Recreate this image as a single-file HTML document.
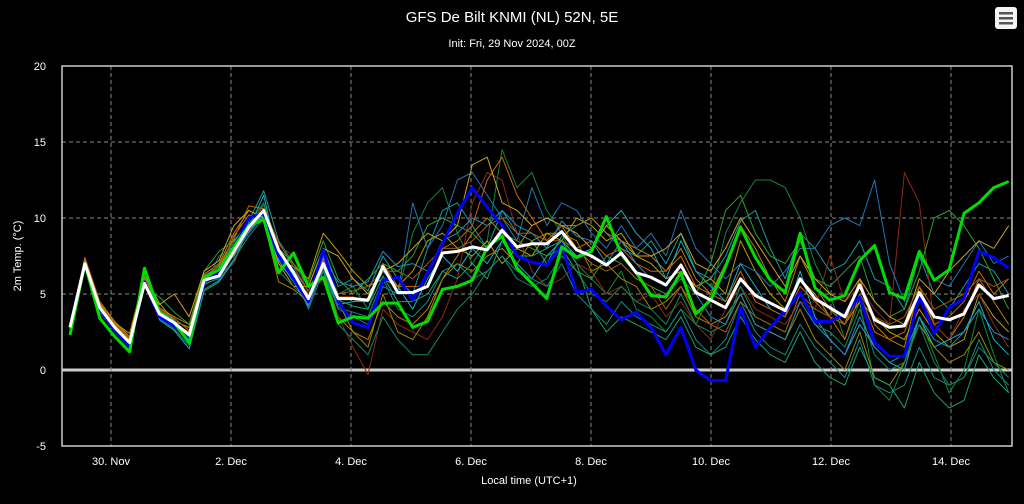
<!DOCTYPE html>
<html><head><meta charset="utf-8"><style>
html,body{margin:0;padding:0;background:#000;}
svg{display:block;font-family:"Liberation Sans",sans-serif;}
</style></head><body>
<svg id="chart" width="1024" height="504" viewBox="0 0 1024 504">
<rect x="0" y="0" width="1024" height="504" fill="#000"/>
<text x="512" y="22" fill="#fff" font-size="15" text-anchor="middle">GFS De Bilt KNMI (NL) 52N, 5E</text>
<text x="512" y="47" fill="#fff" font-size="11" text-anchor="middle">Init: Fri, 29 Nov 2024, 00Z</text>
<g>
<rect x="995" y="7" width="22" height="22" rx="3" fill="#f4f4f4"/>
<rect x="999" y="12" width="14" height="2.5" fill="#555"/>
<rect x="999" y="17" width="14" height="2.5" fill="#555"/>
<rect x="999" y="22" width="14" height="2.5" fill="#555"/>
</g>
<g id="grid"></g>
<g id="series"></g>
<rect x="62" y="66" width="950" height="380" fill="none" stroke="#ccc" stroke-width="1.5"/>
<g id="axes"></g>
<text x="0" y="0" transform="translate(21,256) rotate(-90)" fill="#fff" font-size="11" text-anchor="middle">2m Temp. (°C)</text>
<text x="529" y="484" fill="#fff" font-size="11" text-anchor="middle">Local time (UTC+1)</text>
</svg>
<script>
const yTicks=[-5,0,5,10,15,20];
const xTickLabels=["30. Nov","2. Dec","4. Dec","6. Dec","8. Dec","10. Dec","12. Dec","14. Dec"];
const xTickDays=[0,2,4,6,8,10,12,14];
const meanSeries=[2.8,7.0,4.1,2.8,1.8,5.7,3.7,3.1,2.3,5.9,6.2,7.8,9.4,10.5,7.9,6.4,4.7,7.0,4.7,4.7,4.6,6.8,5.1,5.1,5.5,7.7,7.8,8.1,7.9,9.2,8.1,8.3,8.3,9.1,7.9,7.5,6.9,7.7,6.4,6.1,5.6,6.9,5.1,4.6,4.1,6.0,4.9,4.4,3.9,6.0,4.7,4.1,3.5,5.6,3.3,2.8,2.9,5.1,3.5,3.3,3.7,5.6,4.7,4.9];
const controlSeries=[2.3,7.0,3.4,2.2,1.2,6.7,3.8,3.1,1.8,6.1,6.6,8.1,9.5,9.9,6.4,7.7,5.5,6.1,3.1,3.5,3.4,4.4,4.4,2.8,3.2,5.3,5.5,5.9,8.1,8.8,6.7,5.7,4.7,8.1,7.4,7.8,10.1,7.6,6.4,4.9,4.8,6.4,3.7,4.6,6.8,9.4,7.4,5.9,5.1,9.0,5.4,4.6,4.9,7.2,8.2,5.1,4.7,7.8,5.9,6.6,10.3,11.0,12.0,12.4];
const operSeries=[2.8,7.0,4.0,2.6,1.6,5.8,3.5,2.9,2.0,5.8,6.4,8.0,10.0,10.3,7.5,6.0,4.5,7.9,4.5,3.1,2.8,5.9,6.1,4.6,6.4,8.3,10.3,12.0,10.7,9.5,7.5,7.1,6.9,8.2,5.1,5.3,4.2,3.3,3.8,2.8,1.0,2.8,0.0,-0.7,-0.7,4.1,1.5,2.8,3.9,5.1,3.2,3.2,3.7,4.8,1.8,0.9,0.9,4.9,2.4,4.1,4.7,7.8,7.4,6.7];
const member01=[2.9,7.2,4.3,3.0,2.0,5.5,3.9,3.3,2.0,6.2,6.8,8.4,9.8,11.8,8.5,7.0,5.5,8.0,5.5,6.0,5.2,7.5,6.0,5.0,8.0,10.5,11.0,9.5,8.0,10.5,9.0,8.5,7.0,8.8,9.5,10.0,9.0,8.0,7.5,8.5,7.0,9.0,6.5,6.0,7.5,9.8,10.5,8.0,6.0,9.0,8.0,6.5,7.0,8.5,6.0,5.5,4.0,7.5,5.0,4.0,5.5,7.0,6.5,5.0];
const member02=[3.0,7.4,4.5,3.2,2.2,6.0,4.1,3.5,3.0,6.3,7.0,9.0,10.5,10.0,7.0,6.0,5.0,6.5,3.5,2.5,2.0,4.5,3.5,3.0,4.0,6.0,7.5,9.0,10.0,9.0,8.0,9.5,10.0,9.5,9.5,10.0,9.0,8.5,8.0,7.5,6.5,8.0,6.0,5.0,7.0,9.5,8.0,6.0,4.5,7.5,5.5,4.0,3.0,6.0,3.0,2.0,1.5,5.5,3.0,2.0,3.5,6.0,4.5,3.0];
const member03=[2.6,6.8,3.8,2.5,1.5,5.8,3.5,2.8,2.4,5.5,7.5,8.0,9.0,11.0,8.0,6.0,4.8,7.5,5.0,5.5,4.0,7.0,5.0,9.0,11.0,12.0,9.0,7.0,8.5,14.5,12.0,13.0,10.5,9.0,7.0,6.0,5.0,6.5,4.0,3.5,2.5,4.0,3.0,5.0,9.0,11.0,12.5,12.5,12.0,10.0,7.0,5.0,2.0,4.5,-1.0,-2.0,0.5,3.5,1.0,-1.5,0.0,4.0,1.0,-1.5];
const member04=[2.7,7.1,4.4,3.1,2.4,6.2,4.4,3.2,2.8,6.0,6.5,7.5,9.2,10.0,7.2,6.8,6.0,9.0,7.8,6.5,5.5,6.0,5.5,6.5,8.5,9.0,8.0,7.5,8.5,7.0,8.0,7.5,9.0,8.5,10.0,9.5,8.5,9.0,7.5,7.0,6.0,6.5,5.5,6.0,5.0,8.5,6.5,5.0,4.0,6.0,5.0,3.5,3.0,4.5,3.5,2.5,2.0,4.0,2.5,1.5,2.0,5.0,3.5,2.5];
const member05=[2.8,7.0,4.2,2.9,1.9,5.6,3.6,3.0,2.2,6.1,6.3,7.0,9.5,10.8,8.2,7.5,5.0,6.0,3.5,1.5,-0.3,4.0,3.0,2.5,2.0,3.5,6.0,11.0,13.0,12.5,9.0,6.5,5.5,6.0,7.0,6.5,5.0,5.5,4.5,5.0,3.5,4.5,3.0,2.0,4.0,5.5,4.0,3.5,3.0,4.5,4.0,7.5,4.5,5.5,4.0,3.0,13.0,11.0,3.0,2.0,4.0,5.0,3.0,1.5];
const member06=[2.9,7.0,4.0,2.7,1.7,5.7,3.8,3.1,2.1,5.7,6.0,7.6,9.0,10.2,7.8,6.5,4.0,6.5,4.0,3.5,3.0,5.5,5.0,11.0,8.0,9.5,12.5,13.0,11.5,10.0,8.5,12.0,9.5,11.0,10.5,9.0,8.0,9.5,8.0,9.0,7.5,10.5,8.0,7.0,6.0,7.0,6.5,5.5,6.5,8.0,8.0,9.5,10.0,9.5,12.5,7.0,4.5,7.5,6.0,5.5,7.0,8.5,7.0,7.5];
const member07=[2.9,6.9,4.1,2.8,1.6,5.9,3.3,2.6,1.4,5.2,5.8,7.2,9.3,11.5,7.2,5.8,4.2,6.8,4.3,4.5,4.5,6.5,5.5,4.0,6.0,7.5,6.5,8.0,7.0,8.5,7.0,6.0,7.5,8.5,7.5,8.0,9.5,10.5,9.0,8.0,6.0,8.5,6.5,5.5,4.5,7.0,5.5,4.0,3.5,6.5,3.5,2.0,1.0,3.0,1.5,0.5,0.0,3.5,1.5,2.0,2.5,4.5,2.0,1.0];
const member08=[2.7,7.0,3.9,2.6,1.7,5.4,4.8,3.8,3.0,6.5,7.8,8.5,9.7,10.2,8.0,7.0,5.8,8.5,6.0,5.0,6.0,7.0,6.5,7.5,9.5,10.0,9.5,9.0,8.0,9.0,8.5,8.0,7.5,8.0,6.5,6.0,7.5,7.0,6.0,5.5,5.0,6.0,5.0,7.0,10.5,11.5,9.0,7.5,7.0,8.5,6.0,5.5,6.5,7.5,4.5,3.5,4.0,6.5,10.0,10.5,9.5,8.0,6.0,4.0];
const member09=[2.8,7.1,4.3,3.0,2.0,5.8,3.9,3.0,2.5,5.9,6.6,8.8,10.2,9.8,5.8,5.3,4.5,6.8,4.5,2.5,1.5,5.0,2.5,2.0,3.5,6.0,7.0,6.5,7.5,8.0,7.0,8.5,9.0,9.0,8.5,6.5,7.0,6.0,5.5,4.0,4.5,5.5,3.5,3.0,3.5,5.0,3.0,2.5,2.0,4.0,2.0,1.0,0.0,2.5,-0.5,-1.0,0.5,3.0,1.5,0.5,1.0,2.5,0.5,0.0];
const member10=[2.9,7.2,4.4,3.1,2.1,6.1,4.0,3.4,2.6,6.1,6.9,8.6,10.8,10.6,7.5,6.3,4.8,7.3,4.8,4.8,4.5,7.0,5.5,5.5,5.5,8.0,8.5,9.5,12.5,14.0,11.5,10.0,8.5,9.5,8.0,8.5,7.5,8.0,7.0,6.5,6.5,7.5,5.5,5.0,4.5,6.5,4.5,4.0,3.5,5.5,4.5,3.5,2.0,5.0,2.5,2.0,2.5,5.0,3.0,3.5,4.5,6.5,5.0,6.0];
const member11=[2.6,6.9,3.9,2.6,1.5,5.6,3.4,2.7,1.6,5.3,5.9,7.3,8.8,10.0,7.4,6.1,4.3,6.7,4.1,3.8,3.5,6.0,4.0,3.5,4.5,6.5,7.0,6.0,6.5,7.5,6.5,6.0,5.5,7.0,5.0,4.0,3.0,4.5,3.5,3.0,2.5,4.0,2.0,1.0,2.0,4.5,2.5,1.5,1.0,3.0,1.5,0.5,-0.5,2.0,-1.0,-1.5,-1.0,1.5,-0.5,-1.0,-0.5,2.0,0.0,-1.0];
const member12=[2.8,7.0,4.0,2.8,1.8,5.7,4.3,5.0,3.5,6.5,7.2,9.5,10.5,10.0,7.0,5.5,5.5,8.0,7.5,6.0,5.0,6.5,7.0,8.0,9.0,8.5,9.5,13.5,14.0,11.0,10.5,9.5,10.0,9.5,9.0,8.0,9.5,8.5,7.5,7.5,8.0,9.0,7.0,6.5,8.0,10.0,8.5,7.0,5.5,7.5,6.0,5.0,4.5,6.0,4.5,3.5,3.0,6.0,5.0,6.5,7.5,8.5,8.0,9.5];
const member13=[2.7,7.0,4.1,2.7,1.7,5.6,3.6,3.0,2.1,5.6,6.1,7.7,9.6,11.0,6.5,5.5,4.5,6.9,3.0,2.0,1.0,3.5,2.0,1.0,1.0,2.5,4.0,5.0,6.5,7.5,6.0,5.5,6.0,7.5,6.5,5.0,4.5,5.5,4.5,4.0,3.0,5.0,3.0,2.5,3.0,5.5,3.5,3.0,2.5,5.0,3.0,2.5,1.5,4.0,1.0,0.0,0.5,3.0,0.5,-1.0,-0.5,1.5,0.5,-0.5];
const member14=[2.8,7.1,4.2,2.9,1.9,5.8,3.8,3.2,2.3,5.8,6.4,7.9,9.1,10.4,7.7,6.6,5.2,7.4,5.8,5.5,5.8,7.8,6.8,7.0,6.5,8.5,9.0,10.0,9.5,10.5,9.5,9.0,8.0,9.8,8.8,8.5,7.0,8.5,7.0,6.0,5.5,7.0,5.0,3.5,3.0,5.0,3.0,2.5,2.0,4.5,3.0,2.0,1.0,3.5,1.5,0.5,1.0,3.5,2.0,1.5,2.5,4.0,2.5,2.0];
const member15=[2.9,7.0,4.0,2.8,1.8,5.6,3.9,3.4,2.6,6.0,6.2,7.8,9.2,10.6,8.4,6.8,5.2,7.2,5.0,5.2,5.5,6.5,6.5,6.0,7.0,8.0,8.0,8.5,9.5,10.0,9.0,9.0,8.5,8.5,8.0,7.0,6.5,7.0,6.0,5.5,4.0,5.5,4.0,3.0,2.5,4.5,3.5,3.0,2.5,5.0,4.0,3.5,3.0,5.0,3.5,3.0,3.5,5.5,4.0,4.5,5.0,6.0,5.5,6.0];
const member16=[2.8,6.9,4.0,2.7,1.6,5.7,3.7,3.1,2.2,5.9,6.3,7.7,9.4,10.5,7.6,6.2,4.5,6.8,4.6,4.2,4.0,6.2,4.5,4.5,5.0,6.5,6.0,7.0,6.0,8.5,7.5,7.5,8.0,8.5,7.0,4.0,2.5,3.5,3.0,2.5,2.0,3.5,1.5,1.0,1.5,3.5,2.0,1.0,0.5,2.5,0.5,-0.5,-1.0,1.5,-0.5,-1.0,-2.5,0.5,-1.5,-2.5,-2.0,1.0,-0.5,-1.5];

const NS='http://www.w3.org/2000/svg';
const X0=62,X1=1012,Y0=66,Y1=446;
function yScale(v){return 370-(v*15.2);}
function xScale(i){return 70+i*14.9;}
function xDay(d){return 111+d*60;}
const grid=document.getElementById('grid'),axes=document.getElementById('axes'),series=document.getElementById('series');
yTicks.forEach(function(t){
  const y=yScale(t);
  if(t!==-5&&t!==20){
    const l=document.createElementNS(NS,'line');
    l.setAttribute('x1',X0);l.setAttribute('x2',X1);l.setAttribute('y1',y);l.setAttribute('y2',y);
    l.setAttribute('stroke',t===0?'#ccc':'#888');l.setAttribute('stroke-width',t===0?3:1);
    if(t!==0)l.setAttribute('stroke-dasharray','4,3');
    
    
    grid.appendChild(l);
  }
  const tx=document.createElementNS(NS,'text');
  tx.setAttribute('x',46);tx.setAttribute('y',y+4);tx.setAttribute('fill','#fff');tx.setAttribute('font-size','11');tx.setAttribute('text-anchor','end');
  tx.textContent=t;
  
  
  axes.appendChild(tx);
});
xTickDays.forEach(function(d,k){
  const x=xDay(d);
  const l=document.createElementNS(NS,'line');
  l.setAttribute('x1',x);l.setAttribute('x2',x);l.setAttribute('y1',Y0);l.setAttribute('y2',Y1);
  l.setAttribute('stroke','#888');l.setAttribute('stroke-dasharray','4,3');
  
  
  grid.appendChild(l);
  const tx=document.createElementNS(NS,'text');
  tx.setAttribute('x',x);tx.setAttribute('y',465);tx.setAttribute('fill','#fff');tx.setAttribute('font-size','11');tx.setAttribute('text-anchor','middle');
  tx.textContent=xTickLabels[k];
  
  
  axes.appendChild(tx);
});
function drawLine(arr,color,w,name){
  const p=document.createElementNS(NS,'polyline');
  p.setAttribute('points',arr.map(function(v,i){return xScale(i).toFixed(1)+','+yScale(v).toFixed(1);}).join(' '));
  p.setAttribute('fill','none');p.setAttribute('stroke',color);p.setAttribute('stroke-width',w);p.setAttribute('stroke-linejoin','round');
  
  
  series.appendChild(p);
}
const members=[member01,member02,member03,member04,member05,member06,member07,member08,member09,member10,member11,member12,member13,member14,member15,member16];
const memberColors=['#1a9a9a','#c07a10','#118833','#b8a000','#8b2a10','#1f78b4','#17b0c0','#2ca02c','#9a8a00','#cc6600','#138a80','#d0a020','#0f8a60','#2b8cbe','#a05a10','#1aa070'];
members.forEach(function(m,i){drawLine(m,memberColors[i],1,'ensemble-member-line');});
drawLine(operSeries,'#0000ff',3,'operational-run-line');
drawLine(controlSeries,'#00dd00',3,'control-run-line');
drawLine(meanSeries,'#ffffff',3,'ensemble-mean-line');
</script>
</body></html>
